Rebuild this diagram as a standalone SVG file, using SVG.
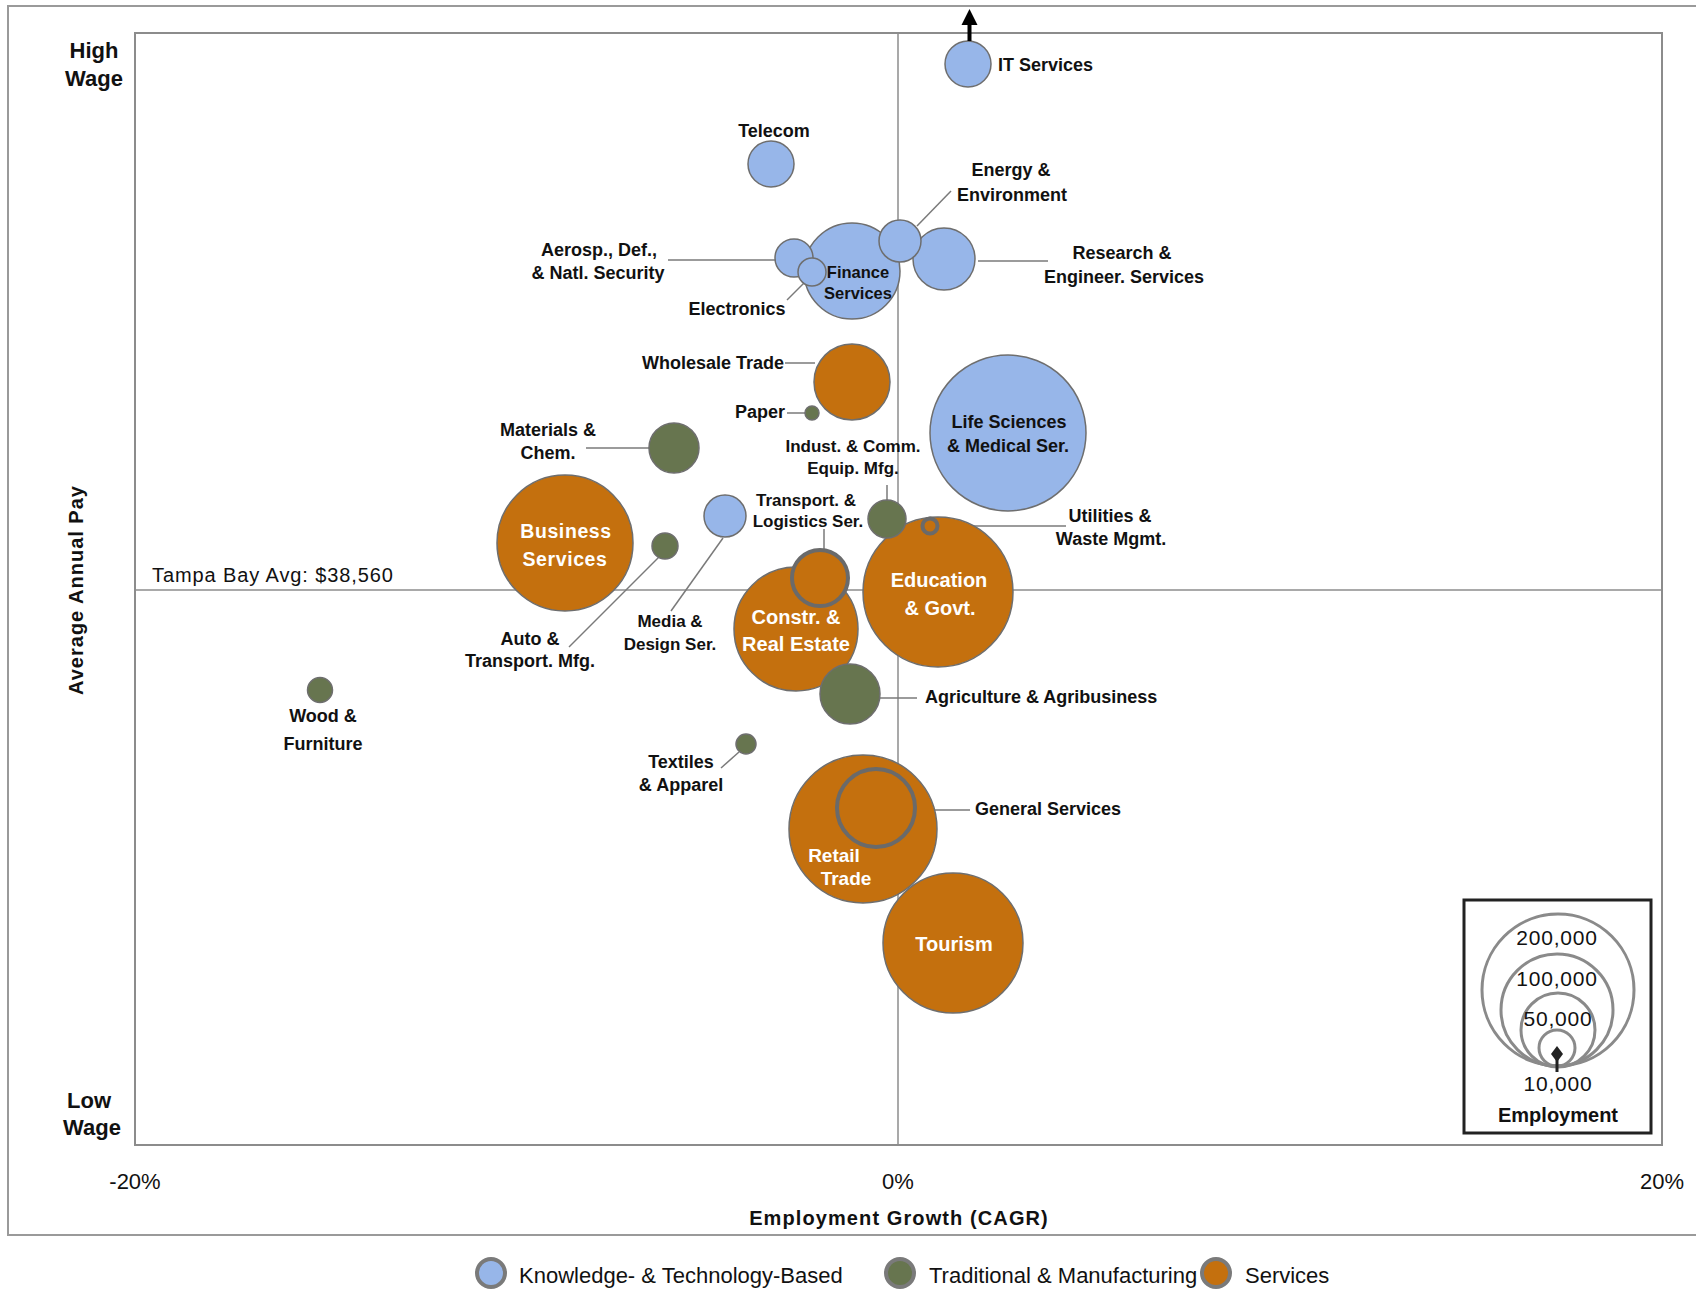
<svg xmlns="http://www.w3.org/2000/svg" width="1696" height="1290" viewBox="0 0 1696 1290">
<style>
text{font-family:'Liberation Sans',Arial,sans-serif}
.lbl{font-weight:bold;font-size:18px;fill:#111}
.sm{font-size:17px}
.in{font-weight:bold;font-size:20px;fill:#fff;text-anchor:middle}
.c{text-anchor:middle}
.e{text-anchor:end}
.k{fill:#97b6e9;stroke:#6e6e6e;stroke-width:1.5}
.t{fill:#67754f;stroke:#6e6e6e;stroke-width:1.5}
.s{fill:#c4700e;stroke:#6e6e6e;stroke-width:1.5}
.ring{stroke-width:4;stroke:#6a6a6a}
.conn line{stroke:#7a7a7a;stroke-width:1.5}
.axis{font-size:22px;fill:#111;text-anchor:middle}
.leg{fill:none;stroke:#8a8a8a;stroke-width:3}
.big{font-size:22px}
.num{font-size:21px;letter-spacing:0.8px;fill:#111;text-anchor:middle}
</style>
<rect width="1696" height="1290" fill="#fff"/>
<rect x="8" y="6" width="1700" height="1229" fill="none" stroke="#9a9a9a" stroke-width="2"/>
<g id="plot-frame">
<rect x="135" y="33" width="1527" height="1112" fill="none" stroke="#8c8c8c" stroke-width="2"/>
<line x1="898" y1="33" x2="898" y2="1145" stroke="#8c8c8c" stroke-width="1.5"/>
<line x1="135" y1="590" x2="1662" y2="590" stroke="#8c8c8c" stroke-width="1.5"/>
</g>
<g id="axes-labels">
<text class="lbl c big" x="94" y="58">High</text>
<text class="lbl c big" x="94" y="86">Wage</text>
<text class="lbl c big" x="89" y="1108">Low</text>
<text class="lbl c big" x="92" y="1135">Wage</text>
<text class="lbl c" transform="translate(83,590) rotate(-90)" style="font-size:20px;letter-spacing:1px">Average Annual Pay</text>
<text x="152" y="582" style="font-size:20px;letter-spacing:0.9px" fill="#111">Tampa Bay Avg: $38,560</text>
<text class="axis" x="135" y="1189">-20%</text>
<text class="axis" x="898" y="1189">0%</text>
<text class="axis" x="1662" y="1189">20%</text>
<text class="lbl c" x="899" y="1225" style="font-size:20px;letter-spacing:1.1px">Employment Growth (CAGR)</text>
</g>
<g class="conn" id="connectors">
<line x1="668" y1="260" x2="776" y2="260"/>
<line x1="787" y1="300" x2="804" y2="283"/>
<line x1="951" y1="191" x2="917" y2="226"/>
<line x1="978" y1="261" x2="1048" y2="261"/>
<line x1="785" y1="363" x2="815" y2="363"/>
<line x1="787" y1="413" x2="805" y2="413"/>
<line x1="586" y1="448" x2="650" y2="448"/>
<line x1="887" y1="485" x2="887" y2="500"/>
<line x1="939" y1="526" x2="1066" y2="526"/>
<line x1="824" y1="529" x2="824" y2="549"/>
<line x1="723" y1="538" x2="671" y2="611"/>
<line x1="662" y1="554" x2="569" y2="647"/>
<line x1="739" y1="752" x2="721" y2="768"/>
<line x1="880" y1="698" x2="917" y2="698"/>
<line x1="917" y1="810" x2="970" y2="810"/>
</g>
<g id="finance-services"><circle class="k" cx="852" cy="271" r="48"/></g>
<g id="aerosp"><circle class="k" cx="794" cy="258" r="19"/>
<text class="lbl c" x="599" y="256">Aerosp., Def.,</text>
<text class="lbl c" x="598" y="279">&amp; Natl. Security</text></g>
<g id="electronics"><circle class="k" cx="812" cy="272" r="14"/>
<text class="lbl c" x="737" y="315">Electronics</text></g>
<g id="finance-label"><text class="lbl c" x="858" y="278" style="font-size:16.5px">Finance</text>
<text class="lbl c" x="858" y="299" style="font-size:16.5px">Services</text></g>
<g id="research"><circle class="k" cx="944" cy="259" r="31"/>
<text class="lbl c" x="1122" y="259">Research &amp;</text>
<text class="lbl c" x="1124" y="283">Engineer. Services</text></g>
<g id="energy"><circle class="k" cx="900" cy="241" r="21"/>
<text class="lbl c" x="1011" y="176">Energy &amp;</text>
<text class="lbl c" x="1012" y="201">Environment</text></g>
<g id="telecom"><circle class="k" cx="771" cy="164" r="23"/>
<text class="lbl c" x="774" y="137">Telecom</text></g>
<g id="it-services"><circle class="k" cx="968" cy="64" r="23"/>
<line x1="969.5" y1="41" x2="969.5" y2="22" stroke="#000" stroke-width="4"/>
<polygon points="969.5,9 961.5,25 977.5,25" fill="#000"/>
<text class="lbl" x="998" y="71">IT Services</text></g>
<g id="wholesale"><circle class="s" cx="852" cy="382" r="38"/>
<text class="lbl e" x="784" y="369">Wholesale Trade</text></g>
<g id="paper"><circle class="t" cx="812" cy="413" r="7"/>
<text class="lbl e" x="785" y="418">Paper</text></g>
<g id="materials"><circle class="t" cx="674" cy="448" r="25"/>
<text class="lbl c" x="548" y="436">Materials &amp;</text>
<text class="lbl c" x="548" y="459">Chem.</text></g>
<g id="life-sciences"><circle class="k" cx="1008" cy="433" r="78"/>
<text class="lbl c" x="1009" y="428">Life Sciences</text>
<text class="lbl c" x="1008" y="452">&amp; Medical Ser.</text></g>
<g id="business"><circle class="s" cx="565" cy="543" r="68"/>
<text class="in" x="566" y="538" style="font-size:19.5px;letter-spacing:0.6px">Business</text>
<text class="in" x="565" y="566" style="font-size:19.5px;letter-spacing:0.6px">Services</text></g>
<g id="auto"><circle class="t" cx="665" cy="546" r="13"/>
<text class="lbl c" x="530" y="645">Auto &amp;</text>
<text class="lbl c" x="530" y="667">Transport. Mfg.</text></g>
<g id="media"><circle class="k" cx="725" cy="516" r="21"/>
<text class="lbl c sm" x="670" y="627">Media &amp;</text>
<text class="lbl c sm" x="670" y="650">Design Ser.</text></g>
<g id="constr"><circle class="s" cx="796" cy="629" r="62"/>
<text class="in" x="796" y="624">Constr. &amp;</text>
<text class="in" x="796" y="651">Real Estate</text></g>
<g id="education"><circle class="s" cx="938" cy="592" r="75"/>
<text class="in" x="939" y="587">Education</text>
<text class="in" x="940" y="615">&amp; Govt.</text></g>
<g id="indust"><circle class="t" cx="887" cy="519" r="19"/>
<text class="lbl c sm" x="853" y="452">Indust. &amp; Comm.</text>
<text class="lbl c sm" x="853" y="474">Equip. Mfg.</text></g>
<g id="utilities"><circle class="s ring" cx="930" cy="526" r="7.5"/>
<text class="lbl c" x="1110" y="522">Utilities &amp;</text>
<text class="lbl c" x="1111" y="545">Waste Mgmt.</text></g>
<g id="transport-logistics"><circle class="s ring" cx="820" cy="578" r="28"/>
<text class="lbl c sm" x="806" y="506">Transport. &amp;</text>
<text class="lbl c sm" x="808" y="527">Logistics Ser.</text></g>
<g id="agriculture"><circle class="t" cx="850" cy="694" r="30"/>
<text class="lbl" x="925" y="703">Agriculture &amp; Agribusiness</text></g>
<g id="retail"><circle class="s" cx="863" cy="829" r="74"/>
<text class="in" x="834" y="862" style="font-size:19px">Retail</text>
<text class="in" x="846" y="885" style="font-size:19px">Trade</text></g>
<g id="general-services"><circle class="s ring" cx="876" cy="808" r="39"/>
<text class="lbl" x="975" y="815">General Services</text></g>
<g id="tourism"><circle class="s" cx="953" cy="943" r="70"/>
<text class="in" x="954" y="951">Tourism</text></g>
<g id="textiles"><circle class="t" cx="746" cy="744" r="10"/>
<text class="lbl c" x="681" y="768">Textiles</text>
<text class="lbl c" x="681" y="791">&amp; Apparel</text></g>
<g id="wood"><circle class="t" cx="320" cy="690" r="12.5"/>
<text class="lbl c" x="323" y="722">Wood &amp;</text>
<text class="lbl c" x="323" y="750">Furniture</text></g>
<g id="size-legend">
<rect x="1464" y="900" width="187" height="233" fill="#fff" stroke="#222" stroke-width="3"/>
<circle class="leg" cx="1558" cy="990" r="76"/>
<circle class="leg" cx="1557" cy="1010" r="56"/>
<circle class="leg" cx="1558" cy="1030" r="37"/>
<circle class="leg" cx="1557" cy="1048" r="18"/>
<line x1="1557" y1="1054" x2="1557" y2="1072" stroke="#222" stroke-width="3"/>
<polygon points="1557,1046 1563,1054 1557,1062 1551,1054" fill="#222"/>
<text class="num" x="1557" y="945">200,000</text>
<text class="num" x="1557" y="986">100,000</text>
<text class="num" x="1558" y="1026">50,000</text>
<text class="num" x="1558" y="1091">10,000</text>
<text class="lbl c" x="1558" y="1122" style="font-size:20px">Employment</text>
</g>
<g id="category-legend">
<circle cx="491" cy="1273" r="14" fill="#97b6e9" stroke="#7a7a7a" stroke-width="4"/>
<text x="519" y="1283" font-size="22" fill="#111">Knowledge- &amp; Technology-Based</text>
<circle cx="900" cy="1273" r="14" fill="#67754f" stroke="#7a7a7a" stroke-width="4"/>
<text x="929" y="1283" font-size="22" fill="#111">Traditional &amp; Manufacturing</text>
<circle cx="1216" cy="1273" r="14" fill="#c4700e" stroke="#7a7a7a" stroke-width="4"/>
<text x="1245" y="1283" font-size="22" fill="#111">Services</text>
</g>
</svg>
